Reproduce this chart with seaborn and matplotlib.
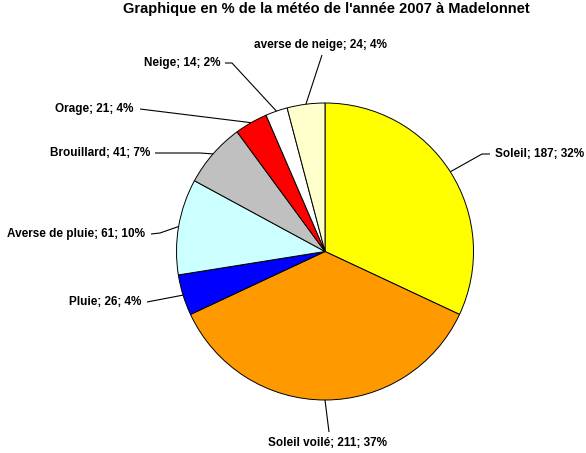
import numpy as np
import matplotlib
matplotlib.use("Agg")
import matplotlib.pyplot as plt
import seaborn as sns

# ---- data ----
categories = ["Soleil", "Soleil voilé", "Pluie", "Averse de pluie",
              "Brouillard", "Orage", "Neige", "averse de neige"]
counts = [187, 211, 26, 61, 41, 21, 14, 24]
percents = [32, 37, 4, 10, 7, 4, 2, 4]
colors = ["#FFFF00", "#FF9900", "#0000FF", "#CCFFFF",
          "#C0C0C0", "#FF0000", "#FFFFFF", "#FFFFCC"]
title = "Graphique en % de la météo de l'année 2007 à Madelonnet"

# ---- layout (pixel coordinates, y downward) ----
W, H = 586, 453
cx, cy, R = 325, 251.5, 148.5
# label anchor (x, y, ha) and elbow point of leader line
label_pos = [
    (495, 154, "left"),
    (327, 443, "center"),
    (141, 302, "right"),
    (145, 234, "right"),
    (150, 153, "right"),
    (133, 109, "right"),
    (220, 63, "right"),
    (320, 45, "center"),
]
line_end = [
    [(482, 154), (490, 154)],
    [(329, 432)],
    [(147, 302)],
    [(160, 233), (151, 234)],
    [(200, 153), (155, 153)],
    [(140, 109)],
    [(232, 63), (225, 63)],
    [(322, 55)],
]

sns.set_theme(style="white")
plt.rcParams["font.family"] = ["Liberation Sans", "DejaVu Sans"]

fig = plt.figure(figsize=(W / 100, H / 100), dpi=100)
fig.patch.set_facecolor("white")
ax = fig.add_axes([0, 0, 1, 1])

wedges, _ = ax.pie(counts, colors=colors, startangle=90, counterclock=False,
                   center=(cx, H - cy), radius=R,
                   wedgeprops=dict(edgecolor="black", linewidth=0.7))
ax.set_xlim(0, W)
ax.set_ylim(0, H)
ax.set_aspect("equal")
ax.axis("off")

for w, cat, n, p, (lx, ly, ha), pts in zip(wedges, categories, counts, percents,
                                              label_pos, line_end):
    mid = np.deg2rad((w.theta1 + w.theta2) / 2)
    ex = cx + R * np.cos(mid)
    ey = (H - cy) + R * np.sin(mid)
    xs = [ex] + [p_[0] for p_ in pts]
    ys = [ey] + [H - p_[1] for p_ in pts]
    ax.plot(xs, ys, color="black", linewidth=0.8, solid_capstyle="butt")
    ax.text(lx, H - ly, f"{cat}; {n}; {p}%", ha=ha, va="center",
            fontsize=8.5, fontweight="bold", color="black")

ax.text(326.5, H - 9, title, ha="center", va="center",
        fontsize=10.5, fontweight="bold", color="black")

fig.savefig("out.png", dpi=100, facecolor="white")
